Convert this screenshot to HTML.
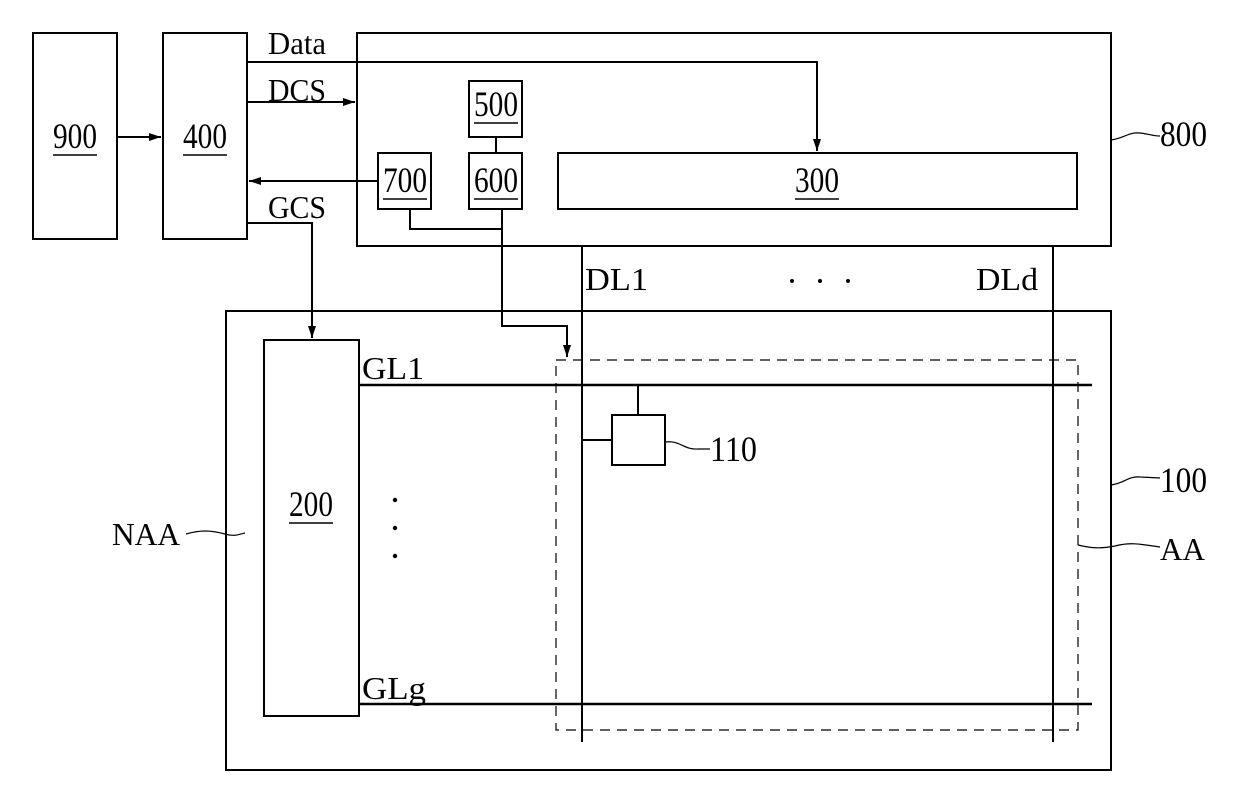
<!DOCTYPE html>
<html><head><style>
html,body{margin:0;padding:0;background:#fff;}
svg{display:block;}
text{font-family:"Liberation Serif",serif;font-size:32px;fill:#000;}
text.n{font-size:36px;}
</style></head><body>
<svg width="1239" height="797" viewBox="0 0 1239 797" xmlns="http://www.w3.org/2000/svg">
<defs>
<marker id="a" markerWidth="12" markerHeight="8" refX="12" refY="4" orient="auto" markerUnits="userSpaceOnUse">
<path d="M0,0 L12,4 L0,8 Z" fill="#000"/>
</marker>
</defs>
<g fill="none" stroke="#000" stroke-width="2">
<rect x="33" y="33" width="84" height="206"/>
<rect x="163" y="33" width="84" height="206"/>
<rect x="357" y="33" width="754" height="213"/>
<rect x="469" y="81" width="53" height="56"/>
<rect x="469" y="153" width="53" height="56"/>
<rect x="378" y="153" width="53" height="56"/>
<rect x="558" y="153" width="519" height="56"/>
<rect x="226" y="311" width="885" height="459"/>
<rect x="264" y="340" width="95" height="376"/>
<rect x="612" y="415" width="53" height="50"/>
<line x1="117" y1="137" x2="161" y2="137" marker-end="url(#a)"/>
<polyline points="247,62 817,62 817,151" marker-end="url(#a)"/>
<line x1="247" y1="102" x2="355" y2="102" marker-end="url(#a)"/>
<line x1="378" y1="181" x2="249" y2="181" marker-end="url(#a)"/>
<polyline points="247,223 312,223 312,338" marker-end="url(#a)"/>
<line x1="496" y1="137" x2="496" y2="153"/>
<polyline points="410,209 410,229 502,229"/>
<polyline points="502,209 502,326 567,326 567,357" marker-end="url(#a)"/>
<line x1="582" y1="246" x2="582" y2="742"/>
<line x1="1053" y1="246" x2="1053" y2="742"/>
<line x1="359" y1="385" x2="1092" y2="385" stroke-width="2.5"/>
<line x1="359" y1="704" x2="1092" y2="704" stroke-width="2.5"/>
<line x1="638" y1="385" x2="638" y2="415"/>
<line x1="582" y1="440" x2="612" y2="440"/>
<rect x="556" y="360" width="522" height="370" stroke-width="1.2" stroke-dasharray="10,7"/>
<path d="M1111,140 C1125,138 1128,132 1140,133 C1150,134 1152,136 1160,136" stroke-width="1.2"/>
<path d="M665,442 C680,440 684,450 698,449 L710,449" stroke-width="1.2"/>
<path d="M1111,485 C1125,483 1128,476 1140,477 L1160,478" stroke-width="1.2"/>
<path d="M1078,545 C1090,548 1100,549 1115,546 C1130,542 1140,544 1160,547" stroke-width="1.2"/>
<path d="M186,534 C200,530 210,530 225,534 C235,537 240,534 245,533" stroke-width="1.2"/>
</g>
<g>
<text class="n" x="53" y="148" textLength="44" lengthAdjust="spacingAndGlyphs">900</text>
<line x1="53" y1="155" x2="97" y2="155" stroke="#000" stroke-width="1.5"/>
<text class="n" x="183" y="148" textLength="44" lengthAdjust="spacingAndGlyphs">400</text>
<line x1="183" y1="155" x2="227" y2="155" stroke="#000" stroke-width="1.5"/>
<text class="n" x="474" y="116" textLength="44" lengthAdjust="spacingAndGlyphs">500</text>
<line x1="474" y1="123" x2="518" y2="123" stroke="#000" stroke-width="1.5"/>
<text class="n" x="474" y="192" textLength="44" lengthAdjust="spacingAndGlyphs">600</text>
<line x1="474" y1="199" x2="518" y2="199" stroke="#000" stroke-width="1.5"/>
<text class="n" x="383" y="192" textLength="44" lengthAdjust="spacingAndGlyphs">700</text>
<line x1="383" y1="199" x2="427" y2="199" stroke="#000" stroke-width="1.5"/>
<text class="n" x="795" y="192" textLength="44" lengthAdjust="spacingAndGlyphs">300</text>
<line x1="795" y1="199" x2="839" y2="199" stroke="#000" stroke-width="1.5"/>
<text class="n" x="289" y="516" textLength="44" lengthAdjust="spacingAndGlyphs">200</text>
<line x1="289" y1="523" x2="333" y2="523" stroke="#000" stroke-width="1.5"/>
<text x="268" y="54" textLength="58" lengthAdjust="spacingAndGlyphs">Data</text>
<text x="268" y="101" textLength="58" lengthAdjust="spacingAndGlyphs">DCS</text>
<text x="268" y="218" textLength="58" lengthAdjust="spacingAndGlyphs">GCS</text>
<text class="n" x="1160" y="146" textLength="47" lengthAdjust="spacingAndGlyphs">800</text>
<text x="585" y="290" textLength="63" lengthAdjust="spacingAndGlyphs">DL1</text>
<text x="976" y="290" textLength="62" lengthAdjust="spacingAndGlyphs">DLd</text>
<circle cx="792" cy="281" r="2" fill="#000"/>
<circle cx="820" cy="281" r="2" fill="#000"/>
<circle cx="848" cy="281" r="2" fill="#000"/>
<text x="362" y="379" textLength="62" lengthAdjust="spacingAndGlyphs">GL1</text>
<text x="362" y="699" textLength="64" lengthAdjust="spacingAndGlyphs">GLg</text>
<text class="n" x="710" y="461" textLength="47" lengthAdjust="spacingAndGlyphs">110</text>
<text class="n" x="1160" y="492" textLength="47" lengthAdjust="spacingAndGlyphs">100</text>
<text x="1160" y="560" textLength="45" lengthAdjust="spacingAndGlyphs">AA</text>
<text x="112" y="545" textLength="68" lengthAdjust="spacingAndGlyphs">NAA</text>
<circle cx="395" cy="500" r="2.2" fill="#000"/>
<circle cx="395" cy="528" r="2.2" fill="#000"/>
<circle cx="395" cy="556" r="2.2" fill="#000"/>
</g>
</svg>
</body></html>
